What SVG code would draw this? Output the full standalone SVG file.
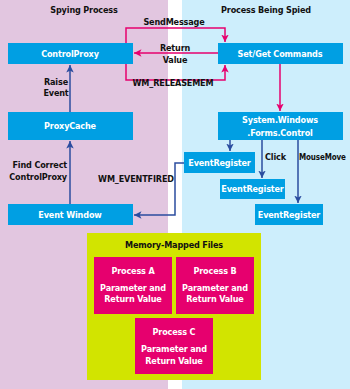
<svg xmlns="http://www.w3.org/2000/svg" width="350" height="389" viewBox="0 0 350 389">
<style>
text{font-family:"DejaVu Sans Condensed","DejaVu Sans","Liberation Sans",sans-serif;font-weight:bold;font-size:9px;font-stretch:condensed;letter-spacing:-0.15px}
.box{fill:#009fe3}
.w{fill:#fff;text-anchor:middle}
.k{fill:#111}
.m{text-anchor:middle}
.e{text-anchor:end}
.pk{fill:none;stroke:#e6006e;stroke-width:1.5}
.bl{fill:none;stroke:#2b4c9f;stroke-width:1.5}
.pb{fill:#e6006e}
</style>
<defs>
<marker id="ap" viewBox="0 0 10 10" refX="10" refY="5" markerWidth="5" markerHeight="5" orient="auto" markerUnits="strokeWidth"><path d="M0,0 L10,5 L0,10 L2.5,5 z" fill="#e6006e"/></marker>
<marker id="ab" viewBox="0 0 10 10" refX="10" refY="5" markerWidth="5" markerHeight="5" orient="auto" markerUnits="strokeWidth"><path d="M0,0 L10,5 L0,10 L2.5,5 z" fill="#2b4c9f"/></marker>
</defs>
<rect x="0" y="0" width="168" height="389" fill="#e2c6e0"/>
<rect x="168" y="0" width="14" height="389" fill="#ffffff"/>
<rect x="182" y="0" width="168" height="389" fill="#cdeefc"/>
<text class="k m" x="84" y="13">Spying Process</text>
<text class="k m" x="266" y="13">Process Being Spied</text>

<g id="connectors">
<path class="pk" d="M126,43 V28 H225 V42" marker-end="url(#ap)"/>
<path class="pk" d="M126,64 V80 H225 V65" marker-end="url(#ap)"/>
<path class="pk" d="M218,53 H134" marker-end="url(#ap)"/>
<path class="pk" d="M280,64 V111" marker-end="url(#ap)"/>
<path class="bl" d="M70,112 V65" marker-end="url(#ab)"/>
<path class="bl" d="M70,204 V141" marker-end="url(#ab)"/>
<path class="bl" d="M184,163 H175 V215 H134" marker-end="url(#ab)"/>
<path class="bl" d="M230,140 V151" marker-end="url(#ab)"/>
<path class="bl" d="M262,140 V178" marker-end="url(#ab)"/>
<path class="bl" d="M298,140 V203" marker-end="url(#ab)"/>
<text class="k m" x="174" y="25">SendMessage</text>
<text class="k m" x="175" y="51">Return</text>
<text class="k m" x="175" y="63">Value</text>
<text class="k m" x="173" y="86">WM_RELEASEMEM</text>
<text class="k m" x="56" y="85">Raise</text>
<text class="k m" x="56" y="96">Event</text>
<text class="k e" x="67" y="168">Find Correct</text>
<text class="k e" x="67" y="180">ControlProxy</text>
<text class="k m" x="136" y="182">WM_EVENTFIRED</text>
<text class="k" x="265" y="160">Click</text>
<text class="k" x="299" y="160" style="font-size:8px">MouseMove</text>
</g>

<g id="controlproxy"><rect class="box" x="8" y="43" width="125" height="21"/><text class="w" x="70" y="57">ControlProxy</text></g>
<g id="setget"><rect class="box" x="218" y="43" width="125" height="21"/><text class="w" x="280" y="57">Set/Get Commands</text></g>
<g id="proxycache"><rect class="box" x="8" y="112" width="125" height="28"/><text class="w" x="70" y="129">ProxyCache</text></g>
<g id="control"><rect class="box" x="218" y="112" width="125" height="28"/><text class="w" x="280" y="123">System.Windows</text><text class="w" x="280" y="136">.Forms.Control</text></g>
<g id="eventwindow"><rect class="box" x="8" y="204" width="125" height="21"/><text class="w" x="70" y="218">Event Window</text></g>
<g id="er1"><rect class="box" x="184" y="152" width="71" height="21"/><text class="w" x="219.5" y="166">EventRegister</text></g>
<g id="er2"><rect class="box" x="220" y="179" width="65" height="20"/><text class="w" x="252.5" y="192">EventRegister</text></g>
<g id="er3"><rect class="box" x="255" y="204" width="68" height="21"/><text class="w" x="289" y="218">EventRegister</text></g>

<g id="mmf"><rect x="87" y="233" width="174" height="147" fill="#d2e400"/><text class="k m" x="174" y="248">Memory-Mapped Files</text></g>
<g id="procA"><rect class="pb" x="94" y="257" width="78" height="57"/><text class="w" x="133" y="274">Process A</text><text class="w" x="133" y="291">Parameter and</text><text class="w" x="133" y="302">Return Value</text></g>
<g id="procB"><rect class="pb" x="176" y="257" width="78" height="57"/><text class="w" x="215" y="274">Process B</text><text class="w" x="215" y="291">Parameter and</text><text class="w" x="215" y="302">Return Value</text></g>
<g id="procC"><rect class="pb" x="135" y="318" width="78" height="56"/><text class="w" x="174" y="335">Process C</text><text class="w" x="174" y="352">Parameter and</text><text class="w" x="174" y="364">Return Value</text></g>
</svg>
